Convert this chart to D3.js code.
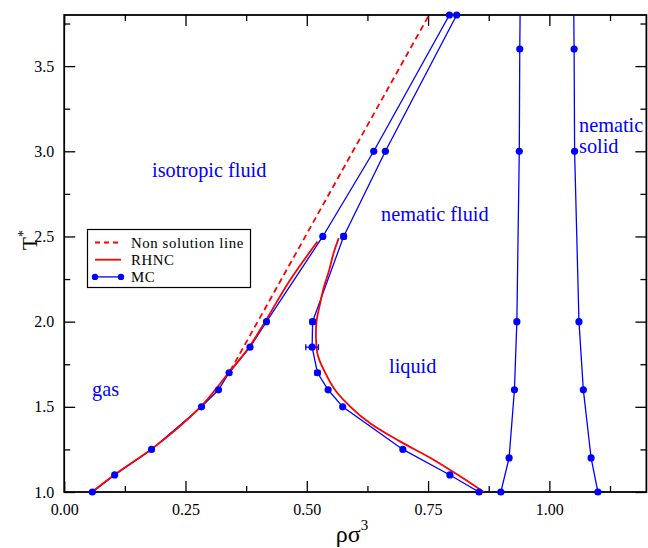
<!DOCTYPE html>
<html>
<head>
<meta charset="utf-8">
<script src="https://cdn.jsdelivr.net/npm/d3@7"></script>
<style>
  html, body { margin: 0; padding: 0; background: #fff; }
  svg { display: block; }
  svg text { font-family: "Liberation Serif", "Times New Roman", Times, "DejaVu Serif", serif !important; }
</style>
</head>
<body>
<svg id="chart" width="648" height="548"></svg>
<script>
// ---------------- data ----------------
const xTicksMajor = [0, 0.25, 0.5, 0.75, 1.0];
const xTickLabels = ["0.00", "0.25", "0.50", "0.75", "1.00"];
const yTicksMajor = [1.0, 1.5, 2.0, 2.5, 3.0, 3.5];
const yTickLabels = ["1.0", "1.5", "2.0", "2.5", "3.0", "3.5"];

// MC left branch (gas / isotropic side)
const mcLeftT   = [1.0, 1.1, 1.25, 1.5, 1.6, 1.7, 1.85, 2.0, 2.5, 3.0, 3.8];
const mcLeftRho = [0.058, 0.104, 0.180, 0.283, 0.318, 0.340, 0.383, 0.417, 0.533, 0.638, 0.794];

// MC right branch (liquid / nematic side)
const mcRightT   = [1.0, 1.1, 1.25, 1.5, 1.6, 1.7, 1.85, 2.0, 2.5, 3.0, 3.8];
const mcRightRho = [0.855, 0.795, 0.698, 0.574, 0.544, 0.522, 0.511, 0.512, 0.576, 0.662, 0.809];
const mcRightErr = [0, 0, 0, 0, 0, 0.005, 0.013, 0.005, 0.005, 0, 0];

// MC nematic-solid coexistence branches
const mcSolidLT   = [1.0, 1.2, 1.6, 2.0, 3.0, 3.6, 3.9];
const mcSolidLRho = [0.900, 0.917, 0.928, 0.933, 0.938, 0.939, 0.940];
const mcSolidRT   = [1.0, 1.2, 1.6, 2.0, 3.0, 3.6, 3.9];
const mcSolidRRho = [1.100, 1.086, 1.070, 1.061, 1.052, 1.051, 1.050];

// RHNC curves
const rhncLeftT   = [1.0, 1.1, 1.25, 1.5, 1.7, 1.85, 2.0, 2.25, 2.47];
const rhncLeftRho = [0.057, 0.103, 0.179, 0.281, 0.339, 0.381, 0.414, 0.467, 0.522];
const rhncRightT   = [2.49, 2.4, 2.3, 2.2, 2.1, 2.0, 1.9, 1.8, 1.7, 1.6, 1.5, 1.4, 1.3, 1.2, 1.1, 1.0];
const rhncRightRho = [0.566, 0.555, 0.546, 0.535, 0.527, 0.520, 0.519, 0.523, 0.538, 0.558, 0.590, 0.632, 0.690, 0.755, 0.812, 0.865];

// Non solution line
const nonSolT   = [1.71, 3.8];
const nonSolRho = [0.342, 0.752];

// Legend entries
const legendLabels = ["Non solution line", "RHNC", "MC"];

// ---------------- layout ----------------
const FONT = '"Liberation Serif", "Times New Roman", Times, "DejaVu Serif", serif';
const svg = d3.select("#chart").attr("font-family", FONT);
const L = 64.2, R = 646.4, T = 15, B = 492;
const x = d3.scaleLinear().domain([0, 1.2]).range([L, R]);
const y = d3.scaleLinear().domain([1.0, 3.8]).range([B, T]);
const blue = "#0000ff", red = "#ff0000";

svg.append("defs").append("clipPath").attr("id", "clip")
  .append("rect").attr("x", L).attr("y", T).attr("width", R - L).attr("height", B - T);

// ---------------- axes (inward ticks, mirrored) ----------------
const majorLen = 11, minorLen = 6;
const xMinor = d3.range(0, 1.2001, 0.125).filter(v => !xTicksMajor.some(m => Math.abs(m - v) < 1e-9));
const yMinor = d3.range(1.0, 3.8001, 0.25).filter(v => !yTicksMajor.some(m => Math.abs(m - v) < 1e-9));

const axB = d3.axisBottom(x).tickValues(xTicksMajor).tickSize(-majorLen).tickPadding(12)
  .tickFormat((d, i) => xTickLabels[i]);
const axBm = d3.axisBottom(x).tickValues(xMinor).tickSize(-minorLen).tickFormat("");
const axT = d3.axisTop(x).tickValues(xTicksMajor).tickSize(-majorLen).tickFormat("");
const axTm = d3.axisTop(x).tickValues(xMinor).tickSize(-minorLen).tickFormat("");
const axL = d3.axisLeft(y).tickValues(yTicksMajor).tickSize(-majorLen).tickPadding(10)
  .tickFormat((d, i) => yTickLabels[i]);
const axLm = d3.axisLeft(y).tickValues(yMinor).tickSize(-minorLen).tickFormat("");
const axR = d3.axisRight(y).tickValues(yTicksMajor).tickSize(-majorLen).tickFormat("");
const axRm = d3.axisRight(y).tickValues(yMinor).tickSize(-minorLen).tickFormat("");

function styleAxis(g) {
  g.attr("font-family", FONT).attr("font-size", 16);
  g.select(".domain").remove();
  g.selectAll(".tick line").attr("stroke", "#000").attr("stroke-width", 1.3);
  g.selectAll(".tick text").attr("fill", "#000").attr("font-size", 16).attr("font-family", FONT);
}
svg.append("g").attr("transform", `translate(0,${B})`).call(axB).call(styleAxis);
svg.append("g").attr("transform", `translate(0,${B})`).call(axBm).call(styleAxis);
svg.append("g").attr("transform", `translate(0,${T})`).call(axT).call(styleAxis);
svg.append("g").attr("transform", `translate(0,${T})`).call(axTm).call(styleAxis);
svg.append("g").attr("transform", `translate(${L},0)`).call(axL).call(styleAxis);
svg.append("g").attr("transform", `translate(${L},0)`).call(axLm).call(styleAxis);
svg.append("g").attr("transform", `translate(${R},0)`).call(axR).call(styleAxis);
svg.append("g").attr("transform", `translate(${R},0)`).call(axRm).call(styleAxis);

svg.append("rect").attr("x", L).attr("y", T).attr("width", R - L).attr("height", B - T)
  .attr("fill", "none").attr("stroke", "#000").attr("stroke-width", 1.8);

// ---------------- series ----------------
const zip = (a, b) => a.map((v, i) => [v, b[i]]);
const plot = svg.append("g").attr("clip-path", "url(#clip)");
const lin = d3.line().x(d => x(d[0])).y(d => y(d[1]));

function drawMC(rho, temp, err) {
  const pts = zip(rho, temp);
  plot.append("path").datum(pts).attr("d", lin)
    .attr("fill", "none").attr("stroke", blue).attr("stroke-width", 1.3);
  const vis = pts.map((p, i) => ({ p, e: err ? err[i] : 0 })).filter(o => o.p[1] <= 3.8 + 1e-9);
  const g = svg.append("g");
  vis.filter(o => o.e > 0).forEach(o => {
    const cy = y(o.p[1]);
    const x0 = x(o.p[0] - o.e), x1 = x(o.p[0] + o.e);
    g.append("line").attr("x1", x0).attr("x2", x1).attr("y1", cy).attr("y2", cy)
      .attr("stroke", blue).attr("stroke-width", 1.3);
    [x0, x1].forEach(xx => g.append("line").attr("x1", xx).attr("x2", xx)
      .attr("y1", cy - 3).attr("y2", cy + 3).attr("stroke", blue).attr("stroke-width", 1.3));
  });
  g.selectAll("circle").data(vis).join("circle")
    .attr("cx", o => x(o.p[0])).attr("cy", o => y(o.p[1])).attr("r", 3.6).attr("fill", blue);
}

drawMC(mcLeftRho, mcLeftT);
drawMC(mcRightRho, mcRightT, mcRightErr);
drawMC(mcSolidLRho, mcSolidLT);
drawMC(mcSolidRRho, mcSolidRT);

plot.append("path").datum(zip(rhncLeftRho, rhncLeftT))
  .attr("d", d3.line().x(d => x(d[0])).y(d => y(d[1])).curve(d3.curveMonotoneY))
  .attr("fill", "none").attr("stroke", red).attr("stroke-width", 1.8);
plot.append("path").datum(zip(rhncRightRho, rhncRightT))
  .attr("d", d3.line().x(d => x(d[0])).y(d => y(d[1])).curve(d3.curveCatmullRom))
  .attr("fill", "none").attr("stroke", red).attr("stroke-width", 1.8);
plot.append("path").datum(zip(nonSolRho, nonSolT)).attr("d", lin)
  .attr("fill", "none").attr("stroke", red).attr("stroke-width", 1.8).attr("stroke-dasharray", "6,4");

// ---------------- region labels ----------------
const labels = [
  { t: "isotropic fluid", x: 152, y: 177 },
  { t: "nematic fluid", x: 381, y: 221 },
  { t: "gas", x: 92, y: 396 },
  { t: "liquid", x: 389, y: 373 },
  { t: "nematic", x: 579, y: 132 },
  { t: "solid", x: 579, y: 153 }
];
svg.selectAll("text.lab").data(labels).join("text").attr("class", "lab")
  .attr("x", d => d.x).attr("y", d => d.y).text(d => d.t)
  .attr("fill", blue).attr("font-size", 20.3).attr("font-family", FONT);

// ---------------- legend ----------------
const lg = svg.append("g");
lg.append("rect").attr("x", 87.5).attr("y", 229.5).attr("width", 163).attr("height", 58)
  .attr("fill", "#fff").attr("stroke", "#000").attr("stroke-width", 1.2);
const legStyles = [
  { c: red, dash: "5,4", w: 1.8, m: false },
  { c: red, dash: null, w: 1.8, m: false },
  { c: blue, dash: null, w: 1.3, m: true }
];
legStyles.forEach((d, i) => {
  const yy = 242.5 + i * 17.2;
  lg.append("line").attr("x1", 95).attr("x2", 121).attr("y1", yy).attr("y2", yy)
    .attr("stroke", d.c).attr("stroke-width", d.w).attr("stroke-dasharray", d.dash);
  if (d.m) {
    lg.append("circle").attr("cx", 95).attr("cy", yy).attr("r", 3.2).attr("fill", blue);
    lg.append("circle").attr("cx", 121).attr("cy", yy).attr("r", 3.2).attr("fill", blue);
  }
  lg.append("text").attr("x", 131).attr("y", yy + 5).text(legendLabels[i])
    .attr("font-size", 14.8).attr("letter-spacing", 0.6).attr("fill", "#000").attr("font-family", FONT);
});

// ---------------- axis titles ----------------
const xt = svg.append("text").attr("x", 352).attr("y", 542).attr("text-anchor", "middle")
  .attr("font-size", 24).attr("fill", "#000").attr("font-family", FONT);
xt.append("tspan").text("ρσ");
xt.append("tspan").attr("dy", -12).attr("font-size", 15).text("3");

const yt = svg.append("text").attr("transform", "translate(37,240) rotate(-90)")
  .attr("text-anchor", "middle").attr("font-size", 21).attr("fill", "#000").attr("font-family", FONT);
yt.append("tspan").text("T");
yt.append("tspan").attr("dy", -9).attr("font-size", 14).text("*");
</script>
</body>
</html>
